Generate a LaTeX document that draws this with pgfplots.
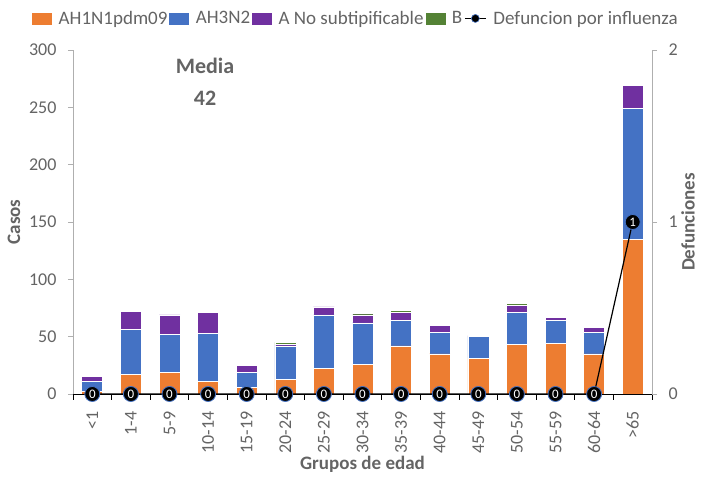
\documentclass[border=0pt]{standalone}
\usepackage{fontspec}
\setmainfont{Carlito}
\usepackage{pgfplots}
\usepackage{pgfplotstable}
\pgfplotsset{compat=1.18}
\usetikzlibrary{calc}
\definecolor{cOr}{RGB}{237,125,49}
\definecolor{cBl}{RGB}{68,114,196}
\definecolor{cPu}{RGB}{112,48,160}
\definecolor{cGr}{RGB}{84,130,53}
\definecolor{txt}{RGB}{100,100,100}
\definecolor{axg}{RGB}{175,175,175}
\newcommand{\lf}{\fontsize{18}{20}\selectfont}
\newcommand{\gf}{\fontsize{19}{21}\selectfont}
\newcommand{\tf}{\fontsize{19}{21}\selectfont\bfseries}

\pgfplotstableread{
x   or  bl  pu  gr  de
0   2   9   4   0   0
1   17  39  16  0   0
2   19  33  17  0   0
3   11  42  18  0   0
4   6   13  6   0   0
5   13  29  1   2   0
6   22  47  7   0   0
7   26  36  7   1   0
8   42  22  7   2   0
9   35  19  6   1   0
10  31  19  1   0   0
11  43  28  6   2   0
12  44  20  3   1   0
13  35  19  4   0   0
14  135 114 20  0   1
}\data

\begin{document}
\begin{tikzpicture}
\begin{axis}[
  name=ax,
  scale only axis, width=579pt, height=344pt,
  ybar stacked, bar width=21pt,
  xmin=-0.5, xmax=14.5, ymin=0, ymax=300,
  axis x line*=bottom, axis y line*=left,
  x axis line style={black, line width=0.9pt},
  y axis line style={axg, line width=0.9pt},
  xtick={0,...,14},
  xticklabels={{<1},{1-4},{5-9},{10-14},{15-19},{20-24},{25-29},{30-34},{35-39},{40-44},{45-49},{50-54},{55-59},{60-64},{>65}},
  minor xtick={-0.5,0.5,...,14.5},
  major x tick style={draw=none},
  minor x tick style={black, line width=0.9pt},
  minor tick length=6pt,
  major tick length=5pt,
  tick align=outside,
  ytick={0,50,...,300},
  y tick style={axg, line width=0.9pt},
  x tick label style={rotate=90, anchor=east, font=\lf, text=txt},
  y tick label style={font=\lf, text=txt},
  xticklabel shift=9pt,
  yticklabel shift=8pt,
  /pgf/number format/assume math mode=true,
  xlabel={Grupos de edad}, ylabel={Casos},
  xlabel style={font=\tf, text=txt},
  ylabel style={font=\tf, text=txt},
  ylabel shift=2pt,
  xlabel shift=-4pt,
  every axis plot/.append style={draw=white, line width=0.6pt},
]
\addplot[fill=cOr] table[x=x,y=or]{\data};
\addplot[fill=cBl] table[x=x,y=bl]{\data};
\addplot[fill=cPu] table[x=x,y=pu]{\data};
\addplot[fill=cGr] table[x=x,y=gr]{\data};
\node[font=\fontsize{22}{24}\selectfont\bfseries, text=txt] at (axis cs:2.92,286) {Media};
\node[font=\fontsize{22}{24}\selectfont\bfseries, text=txt] at (axis cs:2.92,258) {42};
\end{axis}
\begin{axis}[
  scale only axis, width=579pt, height=344pt,
  xmin=-0.5, xmax=14.5, ymin=0, ymax=2,
  axis x line=none, axis y line*=right,
  y axis line style={axg, line width=0.9pt},
  ytick={0,1,2},
  y tick style={axg, line width=0.9pt},
  major tick length=5pt, tick align=outside,
  y tick label style={font=\lf, text=txt},
  yticklabel shift=8pt,
  /pgf/number format/assume math mode=true,
  ylabel={Defunciones},
  ylabel style={font=\tf, text=txt, inner sep=1pt},
  ylabel shift=-1pt,
  clip=false,
  legend columns=5,
  legend style={draw=none, fill=none, font=\gf, text=txt, at={(0.488,1)}, anchor=south, yshift=21pt,
    nodes={inner sep=1pt},
    /tikz/every even column/.append style={column sep=1pt},
    /tikz/every odd column/.append style={column sep=6pt}},
]
\addlegendimage{legend image code/.code={\fill[cOr] (0pt,-5.5pt) rectangle (19pt,5.5pt);}}
\addlegendentry{AH1N1pdm09}
\addlegendimage{legend image code/.code={\fill[cBl] (0pt,-5.5pt) rectangle (19pt,5.5pt);}}
\addlegendentry{AH3N2}
\addlegendimage{legend image code/.code={\fill[cPu] (0pt,-5.5pt) rectangle (19pt,5.5pt);}}
\addlegendentry{A No subtipificable}
\addlegendimage{legend image code/.code={\fill[cGr] (0pt,-5.5pt) rectangle (19pt,5.5pt);}}
\addlegendentry{B}
\addplot[black, line width=1.2pt, mark=*, mark size=7.5pt,
  mark options={fill=black, draw=cBl, line width=0.8pt},
  nodes near coords, point meta=y,
  every node near coord/.append style={anchor=center, text=white, font=\fontsize{13}{13}\selectfont, inner sep=0pt},
  legend image code/.code={\draw[black, line width=1.2pt] (0pt,0pt) -- (21pt,0pt); \filldraw[fill=black, draw=cBl, line width=0.6pt] (10.5pt,0pt) circle (4pt);}
] table[x=x,y=de]{\data};
\addlegendentry{Defuncion por influenza}
\end{axis}
\pgfresetboundingbox
\path ($(ax.south west)+(-73pt,-83pt)$) rectangle ($(ax.north east)+(51pt,50pt)$);
\end{tikzpicture}
\end{document}
